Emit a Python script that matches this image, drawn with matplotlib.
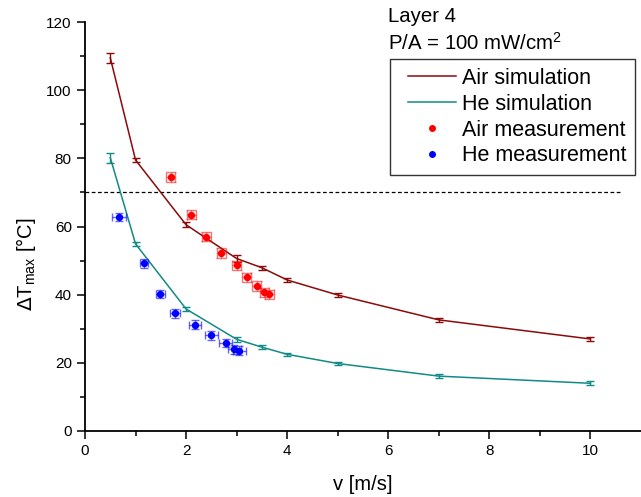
import numpy as np
import matplotlib
matplotlib.use("Agg")
import matplotlib.pyplot as plt
from matplotlib.lines import Line2D
from matplotlib.legend_handler import HandlerLine2D

plt.rcParams['font.family'] = ['Liberation Sans', 'DejaVu Sans']

# simulation data
v_sim = [0.5, 1, 2, 3, 3.5, 4, 5, 7, 10]
air_sim = [109.5, 79.5, 60.5, 50.6, 47.9, 44.3, 39.9, 32.6, 27.0]
air_sim_err = [1.5, 0.5, 0.7, 1.0, 0.6, 0.5, 0.5, 0.5, 0.6]
he_sim = [80.2, 54.9, 35.8, 26.9, 24.6, 22.5, 19.8, 16.1, 14.0]
he_sim_err = [1.5, 0.6, 0.6, 0.8, 0.5, 0.5, 0.5, 0.5, 0.6]

# measurements
v_air = [1.7, 2.1, 2.4, 2.7, 3.0, 3.2, 3.4, 3.55, 3.65]
air_meas = [74.6, 63.5, 57.0, 52.2, 48.6, 45.1, 42.5, 40.7, 40.1]
v_he = [0.68, 1.17, 1.49, 1.78, 2.17, 2.5, 2.78, 2.95, 3.05]
he_meas = [62.8, 49.2, 40.2, 34.6, 31.2, 28.1, 25.8, 24.0, 23.5]
v_he_err = [0.14, 0.08, 0.09, 0.09, 0.12, 0.13, 0.13, 0.13, 0.13]

limit = 70

air_line = '#8b0a0a'
he_line = '#128a86'

fig = plt.figure(figsize=(6.41, 4.97), dpi=100)
ax = fig.add_axes([85 / 641, 66 / 497, 556 / 641, 409 / 497])

ax.errorbar(v_sim, air_sim, yerr=air_sim_err, color=air_line, lw=1.1,
            elinewidth=1.0, capsize=3, capthick=1.0, zorder=3)
ax.errorbar(v_sim, he_sim, yerr=he_sim_err, color=he_line, lw=1.1,
            elinewidth=1.0, capsize=3, capthick=1.0, zorder=3)

ax.errorbar(v_air, air_meas, xerr=0.09, yerr=1.4, fmt='o', ms=4.3,
            color='#ff0000', ecolor=(1, 0, 0, 0.55), elinewidth=1.0,
            capsize=3.4, capthick=1.0, zorder=4)
ax.errorbar(v_he, he_meas, xerr=v_he_err, yerr=1.3, fmt='o', ms=4.3,
            color='#0000ff', ecolor=(0, 0, 1, 0.6), elinewidth=1.0,
            capsize=3.2, capthick=1.0, zorder=4)

ax.plot([0, 10.6], [limit, limit], ls=(0, (3, 2)), color='black', lw=0.9)

ax.set_xlim(0, 11)
ax.set_ylim(0, 120)
ax.set_xticks([0, 2, 4, 6, 8, 10])
ax.set_xticks(np.arange(1, 11, 2), minor=True)
ax.set_yticks(np.arange(0, 121, 20))
ax.set_yticks(np.arange(10, 120, 20), minor=True)
ax.spines['top'].set_visible(False)
ax.spines['right'].set_visible(False)
for s in ['left', 'bottom']:
    ax.spines[s].set_linewidth(1.3)
ax.tick_params(which='major', length=6, width=1.1, labelsize=11, direction='out')
ax.tick_params(which='minor', length=3.5, width=1.1, direction='out')

ax.set_xlabel('v [m/s]', fontsize=14.5)
ax.xaxis.set_label_coords(0.5, -(485 - 431) / 409)
ax.xaxis.label.set_va('center')
ax.set_ylabel(r'$\Delta$T$_{\mathregular{max}}$ [°C]', fontsize=14.5)
ax.yaxis.set_label_coords(-(85 - 26) / 556, (431 - 264) / 409)
ax.yaxis.label.set_va('center')

handles = [
    Line2D([], [], color=air_line, lw=1.1),
    Line2D([], [], color=he_line, lw=1.1),
    Line2D([], [], color='#ff0000', marker='o', ms=4, ls='none'),
    Line2D([], [], color='#0000ff', marker='o', ms=4, ls='none'),
]
labels = ['Air simulation', 'He simulation', 'Air measurement', 'He measurement']
leg = fig.legend(handles, labels, loc='upper right', bbox_to_anchor=(635 / 641, 1 - 59 / 497),
                 fontsize=15.5, frameon=True, fancybox=False, framealpha=1,
                 edgecolor='#333333', borderpad=0.4, labelspacing=0.23,
                 handlelength=2.65, handletextpad=0.28, borderaxespad=0,
                 handler_map={Line2D: HandlerLine2D(xpad=0.42)})
leg.get_frame().set_linewidth(1.0)

fig.text(388 / 641, 1 - 17 / 497, 'Layer 4', fontsize=14.7, va='center', ha='left')
fig.text(388 / 641, 1 - 43 / 497, 'P/A = 100 mW/cm$^{\\mathregular{2}}$', fontsize=14.7,
         va='center', ha='left')

fig.savefig('out.png', dpi=100)
